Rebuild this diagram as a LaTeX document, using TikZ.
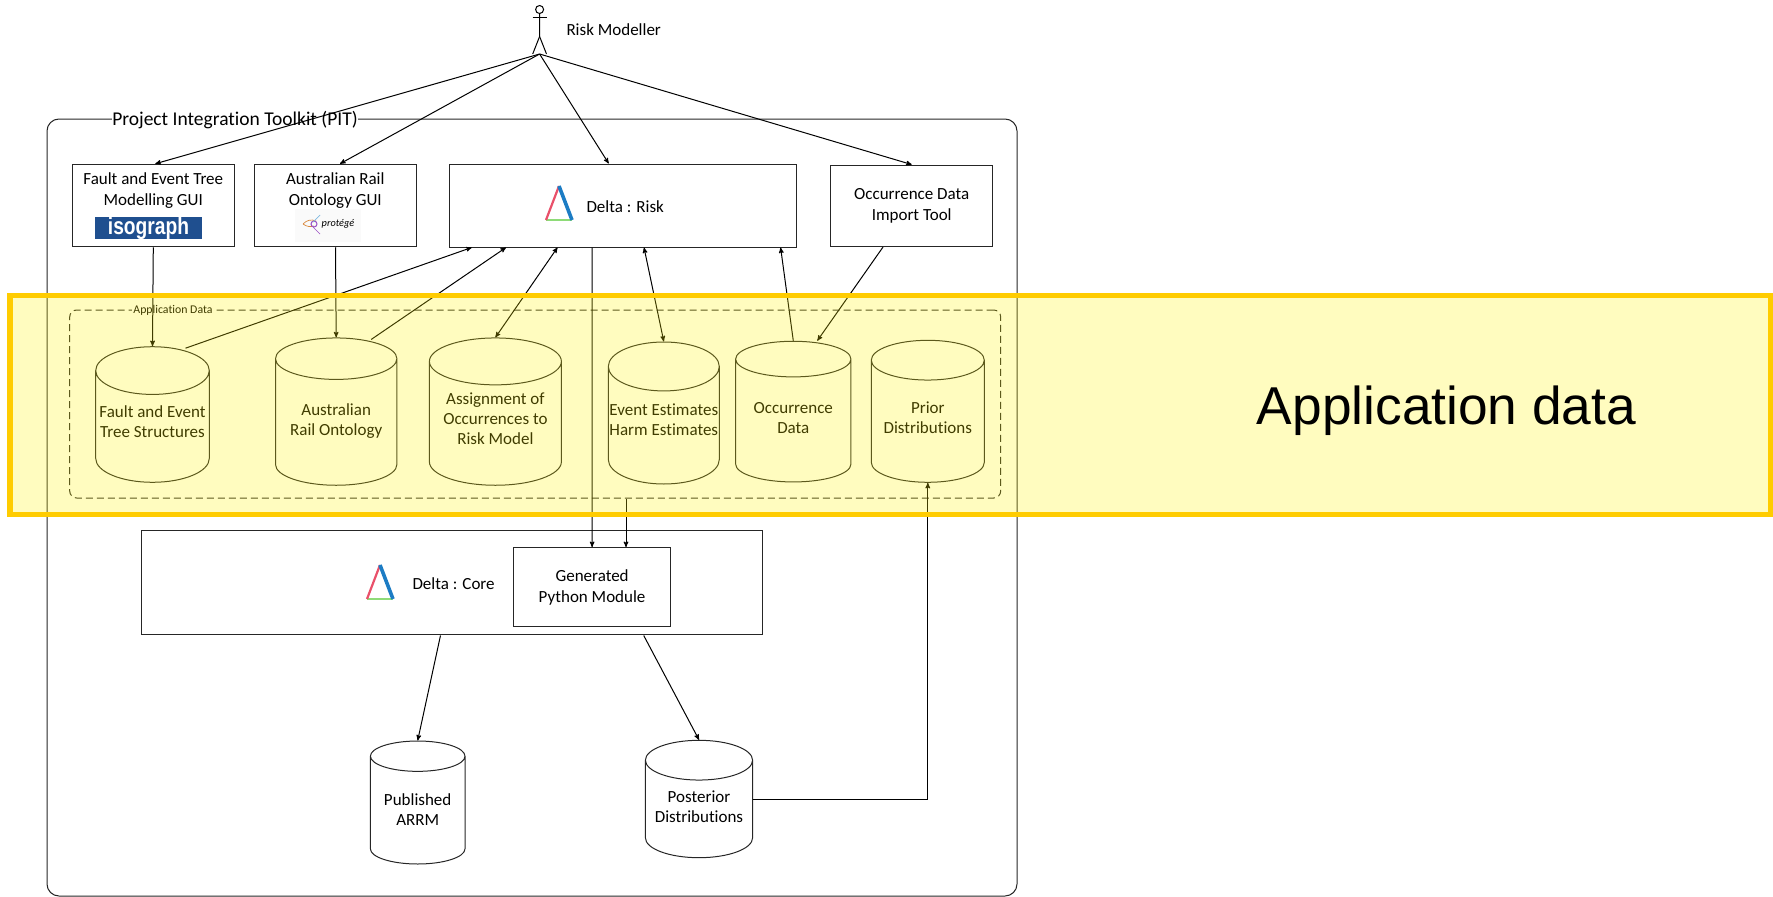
\documentclass[tikz,border=0pt]{standalone}
\usepackage{fontspec}
\setmainfont[Ligatures=NoCommon]{Carlito}
\newfontfamily\arialfont{Liberation Sans}
\usetikzlibrary{arrows,shapes.geometric}

\definecolor{linegray}{HTML}{262626}
\definecolor{bandborder}{HTML}{FFC000}
\definecolor{isoblue}{HTML}{1F4F8F}
\definecolor{logored}{HTML}{E9506A}
\definecolor{logoblue}{HTML}{1C7CC4}
\definecolor{logogreen}{HTML}{8EDB78}
\definecolor{protorange}{HTML}{D9873A}
\definecolor{protpurple}{HTML}{9A4FC4}
\definecolor{protblue}{HTML}{7FB8E0}

\tikzset{
  box node/.style={draw=linegray,line width=1pt,rectangle,inner sep=0pt,align=center,font=\fontsize{17}{21}\selectfont},
  store node/.style={draw=linegray,line width=1pt,cylinder,shape border rotate=90,anchor=shape center,inner sep=0pt,align=center,
                     aspect=.45,font=\fontsize{17}{20}\selectfont},
  text node/.style={inner sep=0pt,align=center,font=\fontsize{17}{21}\selectfont},
  pics/deltalogo/.style={code={
    \draw[-,logogreen,line width=2.4pt] (-13,17) -- (13,17);
    \draw[-,logored,line width=2.2pt] (-13,17) -- (0,-17);
    \draw[-,logoblue,line width=3.6pt] (0,-17) -- (13,17);
  }}
}

\begin{document}
\begin{tikzpicture}[->,>=stealth',x=1pt,y=-1pt,line width=1pt]
\useasboundingbox (0,0) rectangle (1773,897);

% toolkit frame
\node[box node,rounded corners=12pt,minimum width=970pt,minimum height=777pt] (pit) at (532,507.5) {};
\node[fill=white,inner sep=0pt,font=\fontsize{19.5}{23}\selectfont] (pitlabel) at (235,120) {Project Integration Toolkit (PIT)};

% actor
\node[circle,draw=black,minimum size=8pt,inner sep=0pt] (head) at (539.6,9.5) {};
\coordinate (neck) at (539.6,36.5);
\coordinate (foot) at (539.6,54);
\coordinate (lfoot) at (532.7,54);
\coordinate (rfoot) at (546.5,54);
\coordinate (larm) at (532.6,17.5);
\coordinate (rarm) at (546.6,17.5);
\draw[-] (head) -- (neck) -- (lfoot);
\draw[-] (neck) -- (rfoot);
\draw[-] (larm) -- (rarm);
\node[text node,anchor=west] (modeller) at (566,29.5) {Risk Modeller};

% tools
\node[box node,minimum width=162pt,minimum height=82.5pt] (fault) at (153.3,205.5) {};
\node[text node] (faultlabel) at (153.3,190.5) {Fault and Event Tree\\Modelling GUI};
\node[fill=isoblue,text=white,inner sep=0pt,minimum width=107pt,minimum height=22.5pt,font=\arialfont\bfseries\fontsize{24}{24}\selectfont] (isograph) at (148.5,228) {\scalebox{.8}[1]{isograph}};
\node[box node,minimum width=162pt,minimum height=82.5pt] (ont) at (335.5,205.5) {};
\node[text node] (ontlabel) at (335.3,190.5) {Australian Rail\\Ontology GUI};
\node[fill=black!2,inner sep=0pt,minimum width=66pt,minimum height=32.7pt] (protback) at (328,225.4) {};
\node[inner sep=0pt,font=\itshape\fontsize{10.3}{12}\selectfont] (protege) at (338,224) {prot\'eg\'e};
\draw[-,protorange,line width=.7pt] (303,224) .. controls (307,220) and (311,219) .. (316,221);
\draw[-,protorange,line width=.7pt] (303,224) .. controls (307,227) and (311,227) .. (314,226);
\draw[-,protpurple,line width=1pt] (314,224) circle (3pt);
\draw[-,protblue,line width=.7pt] (320,215) -- (313,222);
\draw[-,protpurple,line width=.7pt] (313,227) -- (320,234);
\node[box node,minimum width=347pt,minimum height=83pt] (risk) at (622.7,205.5) {};
\pic at (559,203) {deltalogo};
\node[text node,anchor=west] (risklabel) at (586,206.5) {Delta : Risk};
\node[box node,minimum width=162.5pt,minimum height=81.5pt] (occ) at (911.7,205.8) {Occurrence Data\\Import Tool};

% data stores
\node[box node,dash pattern=on 7pt off 4pt,rounded corners=7pt,minimum width=931pt,minimum height=188pt] (appdata) at (535.2,404) {};
\node[fill=white,inner sep=1pt,font=\fontsize{11.8}{13}\selectfont] (applabel) at (173,310) {Application Data};
\node[store node,text depth=10pt,minimum width=113.6pt,minimum height=135.6pt] (c1) at (152.5,414.5) {Fault and Event\\Tree Structures};
\node[store node,text depth=4.6pt,minimum width=121.4pt,minimum height=147.3pt] (c2) at (336.2,411.6) {Australian\\Rail Ontology};
\node[store node,text depth=9pt,minimum width=132pt,minimum height=147.3pt] (c3) at (495.4,411.6) {Assignment of\\Occurrences to\\Risk Model};
\node[store node,text depth=11pt,minimum width=111pt,minimum height=142pt] (c4) at (663.8,413) {Event Estimates\\Harm Estimates};
\node[store node,text depth=4.6pt,minimum width=115.3pt,minimum height=140.7pt] (c5) at (793.3,411.6) {Occurrence\\Data};
\node[store node,text depth=6.8pt,minimum width=113pt,minimum height=142pt] (c6) at (927.8,411.3) {Prior\\Distributions};

% core
\node[box node,minimum width=621.5pt,minimum height=104.3pt] (core) at (452.2,582.8) {};
\pic at (380,582) {deltalogo};
\node[text node,anchor=west] (corelabel) at (412,583.5) {Delta : Core};
\node[box node,fill=white,minimum width=157.6pt,minimum height=79.3pt] (python) at (592.1,587.3) {Generated\\Python Module};
\node[store node,text depth=2.3pt,minimum width=94.6pt,minimum height=123pt] (c7) at (417.7,802.5) {Published\\ARRM};
\node[store node,text depth=4.6pt,minimum width=107.2pt,minimum height=117.4pt] (c8) at (699,799) {Posterior\\Distributions};

% links
\draw (foot) -- ([xshift=2pt]fault.north);
\draw (foot) -- ([xshift=4.5pt]ont.north);
\draw (foot) -- ([xshift=-14pt]risk.north);
\draw (foot) -- (occ.north);
\draw (fault.south) -- (c1.north);
\draw (ont.south) -- (c2.north);
\draw ([xshift=33pt,yshift=-2pt]c1.north) -- ([xshift=-151pt]risk.south);
\draw ([xshift=35pt,yshift=-2pt]c2.north) -- ([xshift=-116.7pt]risk.south);
\draw[<->] (c3.north) -- ([xshift=-65.2pt]risk.south);
\draw[<->] (c4.north) -- ([xshift=21.3pt]risk.south);
\draw (c5.north) -- ([xshift=157.9pt]risk.south);
\draw ([xshift=-28.7pt]occ.south) -- ([xshift=24pt]c5.north);
\draw ([xshift=-30.7pt]risk.south) -- (python.north);
\draw ([xshift=90.8pt]appdata.south) -- ([xshift=33.9pt]python.north);
\draw ([xshift=-11.7pt]core.south) -- (c7.north);
\draw ([xshift=191.5pt]core.south) -- (c8.north);
\draw (c8.east |- 0,799.3) -| (c6.south);

% highlight band
\node[rectangle,draw=bandborder,line width=5.2pt,fill=none,minimum width=1761pt,minimum height=218.5pt,inner sep=0pt] (band) at (890.5,405) {};
\fill[yellow,opacity=.25] (band.south west) rectangle (band.north east);
\node[inner sep=0pt,font=\arialfont\fontsize{53.3}{60}\selectfont] (bandlabel) at (1446.5,410.5) {Application data};
\end{tikzpicture}
\end{document}
